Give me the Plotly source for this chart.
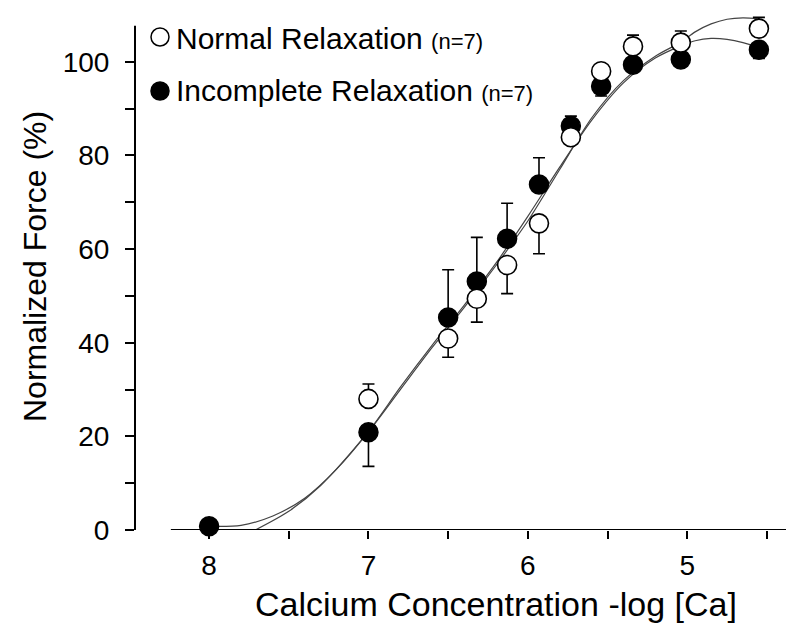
import plotly.graph_objects as go

# ---------------- data ----------------
pca = [8.0, 7.0, 6.5, 6.32, 6.13, 5.93, 5.73, 5.54, 5.34, 5.04, 4.55]
normal = [None, 28.0, 40.9, 49.4, 56.6, 65.5, 83.9, 98.0, 103.3, 104.1, 107.1]
normal_err_up = [0, 3.2, 0, 0, 0, 0, 0, 0, 2.4, 2.5, 2.4]
normal_err_dn = [0, 0, 4.0, 5.0, 6.1, 6.5, 0, 0, 0, 0, 0]
incomplete = [0.8, 20.9, 45.4, 53.1, 62.2, 73.8, 86.3, 94.8, 99.4, 100.5, 102.6]
incomplete_err_up = [0, 0, 10.2, 9.4, 7.6, 5.7, 2.1, 0, 0, 0, 0]
incomplete_err_dn = [0, 7.3, 0, 0, 0, 0, 0, 2.1, 0, 0, 1.9]

fit_normal_pca = [7.71, 7.5, 7.3, 7.0, 6.8, 6.6, 6.4, 6.2, 6.0, 5.8, 5.6, 5.4, 5.2, 5.04,
                  4.95, 4.85, 4.75, 4.65, 4.55]
fit_normal = [0, 4, 9.5, 21, 30, 39, 47.5, 56.5, 66, 77, 88, 96, 101.2, 104.2,
              106.4, 108.1, 109.1, 109.4, 109.2]
fit_incomplete_pca = [8.0, 7.8, 7.6, 7.4, 7.2, 7.0, 6.8, 6.6, 6.4, 6.2, 6.0, 5.8, 5.6, 5.4,
                      5.2, 5.04, 4.95, 4.85, 4.75, 4.65, 4.55]
fit_incomplete = [0.8, 1.0, 3.0, 6.8, 13, 21, 30.5, 39.5, 48, 57, 67, 77.5, 87.5, 95.5,
                  100.8, 103.4, 104.5, 105.0, 104.8, 104.1, 103.0]

x_ticks = [8, 7.5, 7, 6.5, 6, 5.5, 5, 4.5]
x_ticktext = ["8", "", "7", "", "6", "", "5", ""]
y_ticks = [0, 10, 20, 30, 40, 50, 60, 70, 80, 90, 100]
y_ticktext = ["0", "", "20", "", "40", "", "60", "", "80", "", "100"]

x_title = "Calcium Concentration -log [Ca]"
y_title = "Normalized Force (%)"
legend_labels = ["Normal Relaxation", "Incomplete Relaxation"]
legend_n = "(n=7)"

FONT = "Liberation Sans, Arial, sans-serif"
X_RANGE = [8.465, 4.38]
Y_RANGE = [0, 111.5]      # a little headroom so the fitted curves are not clipped
Y_AXIS_TOP = 107.7        # where the drawn y-axis line stops
X_AXIS_START = 8.24       # where the drawn x-axis line starts

# geometry (pixels)
W, H = 800, 630
L, R, T, B = 127, 22, 0, 108
pw, ph = W - L - R, H - T - B
def px_x(p):
    return (p - L) / pw
def px_y(p):
    return (H - B - p) / ph

fig = go.Figure()

# fitted curves
for cx, cy in ((fit_incomplete_pca, fit_incomplete), (fit_normal_pca, fit_normal)):
    fig.add_trace(go.Scatter(x=cx, y=cy, mode="lines",
                             line=dict(color="#444", width=1.2, shape="spline", smoothing=0.8),
                             showlegend=False, cliponaxis=False))

# data points
fig.add_trace(go.Scatter(
    x=pca, y=incomplete, mode="markers",
    marker=dict(size=19, color="black", line=dict(color="black", width=1.5)),
    error_y=dict(type="data", symmetric=False, array=incomplete_err_up,
                 arrayminus=incomplete_err_dn, color="black", thickness=1.6, width=6),
    showlegend=False, cliponaxis=False))
fig.add_trace(go.Scatter(
    x=pca, y=normal, mode="markers",
    marker=dict(size=19, color="white", line=dict(color="black", width=1.6)),
    error_y=dict(type="data", symmetric=False, array=normal_err_up,
                 arrayminus=normal_err_dn, color="black", thickness=1.6, width=6),
    showlegend=False, cliponaxis=False))

shapes = [
    # x axis line, offset from the y axis
    dict(type="line", xref="x", yref="y", x0=X_AXIS_START, x1=X_RANGE[1], y0=0, y1=0,
         line=dict(color="black", width=2)),
    # y axis line
    dict(type="line", xref="paper", yref="y", x0=0, x1=0, y0=0, y1=Y_AXIS_TOP,
         line=dict(color="black", width=2)),
    # legend symbols
    dict(type="circle", xref="paper", yref="paper", xsizemode="pixel", ysizemode="pixel",
         xanchor=px_x(152), yanchor=px_y(29), x0=-9, x1=9, y0=-9, y1=9,
         fillcolor="white", line=dict(color="black", width=1.5)),
    dict(type="circle", xref="paper", yref="paper", xsizemode="pixel", ysizemode="pixel",
         xanchor=px_x(152), yanchor=px_y(83), x0=-9, x1=9, y0=-9, y1=9,
         fillcolor="black", line=dict(color="black", width=1.5)),
]
annotations = [
    dict(xref="paper", yref="paper", x=px_x(166), y=px_y(31), xanchor="left", yanchor="middle",
         showarrow=False,
         text=f"{legend_labels[0]} <span style='font-size:22px'>{legend_n}</span>",
         font=dict(family=FONT, size=30, color="black")),
    dict(xref="paper", yref="paper", x=px_x(166), y=px_y(82), xanchor="left", yanchor="middle",
         showarrow=False,
         text=f"{legend_labels[1]} <span style='font-size:22px'>{legend_n}</span>",
         font=dict(family=FONT, size=30, color="black")),
    # axis titles
    dict(xref="paper", yref="paper", x=px_x(245), y=px_y(596), xanchor="left", yanchor="middle",
         showarrow=False, text=x_title, font=dict(family=FONT, size=34, color="black")),
    dict(xref="paper", yref="paper", x=px_x(27), y=px_y(259), xanchor="center", yanchor="middle",
         showarrow=False, text=y_title, textangle=-90,
         font=dict(family=FONT, size=32, color="black")),
]

fig.update_layout(
    width=W, height=H,
    margin=dict(l=L, r=R, t=T, b=B, pad=0),
    paper_bgcolor="white", plot_bgcolor="white",
    font=dict(family=FONT, color="black"),
    shapes=shapes, annotations=annotations,
    xaxis=dict(range=X_RANGE, tickvals=x_ticks, ticktext=x_ticktext,
               ticks="outside", ticklen=8, tickwidth=2, tickcolor="black",
               showline=False, showgrid=False, zeroline=False, automargin=False,
               tickfont=dict(size=28, family=FONT), ticklabelstandoff=2),
    yaxis=dict(range=Y_RANGE, tickvals=y_ticks, ticktext=y_ticktext,
               ticks="outside", ticklen=9, tickwidth=2, tickcolor="black",
               showline=False, showgrid=False, zeroline=False, automargin=False,
               tickfont=dict(size=28, family=FONT), ticklabelstandoff=10),
)

fig.write_html("out.html")
